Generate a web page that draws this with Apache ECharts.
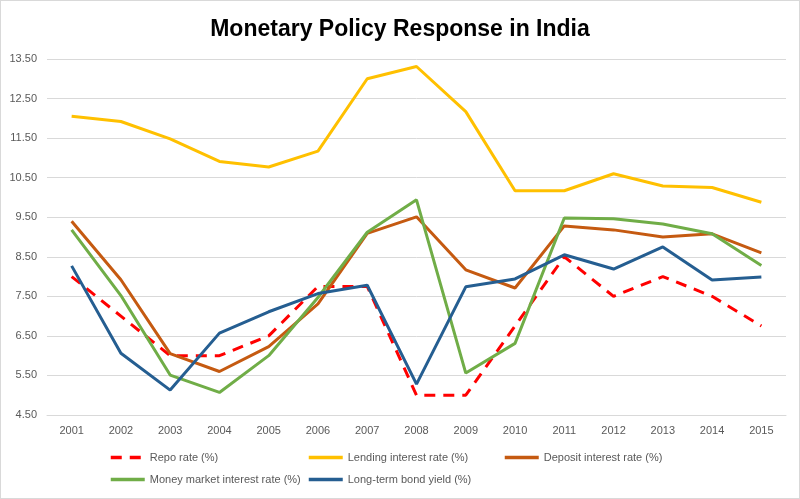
<!DOCTYPE html>
<html>
<head>
<meta charset="utf-8">
<script src="https://cdn.jsdelivr.net/npm/echarts@6/dist/echarts.min.js"></script>
<style>
  html, body { margin: 0; padding: 0; background: #fff; }
  #chart { width: 798px; height: 497px; border: 1px solid #d9d9d9; }
</style>
</head>
<body>
<div id="chart"></div>
<script>
// years on the category axis
const years = ['2001', '2002', '2003', '2004', '2005', '2006', '2007', '2008',
    '2009', '2010', '2011', '2012', '2013', '2014', '2015']

// series values (%)
const repoRate = [8.0, 7.0, 6.0, 6.0, 6.5, 7.75, 7.75, 5.0, 5.0, 6.75, 8.5, 7.5, 8.0, 7.5, 6.75]
const lendingRate = [12.05, 11.92, 11.48, 10.91, 10.77, 11.17, 13.0, 13.31, 12.17, 10.17, 10.17, 10.6, 10.29, 10.25, 9.88]
const depositRate = [9.4, 7.92, 6.05, 5.6, 6.23, 7.31, 9.09, 9.51, 8.17, 7.71, 9.28, 9.18, 9.0, 9.08, 8.6]
const moneyMarketRate = [9.18, 7.52, 5.51, 5.07, 6.0, 7.47, 9.12, 9.94, 5.56, 6.31, 9.48, 9.46, 9.33, 9.08, 8.28]
const bondYield = [8.27, 6.06, 5.13, 6.57, 7.11, 7.57, 7.78, 5.28, 7.74, 7.94, 8.55, 8.19, 8.75, 7.91, 7.99]

// y axis tick values
const yTicks = [4.5, 5.5, 6.5, 7.5, 8.5, 9.5, 10.5, 11.5, 12.5, 13.5]

// series names, in legend order
const names = ['Repo rate (%)', 'Lending interest rate (%)', 'Deposit interest rate (%)',
    'Money market interest rate (%)', 'Long-term bond yield (%)']

const chart = echarts.init(document.getElementById('chart'), null, { renderer: 'canvas' })

const font = 'Liberation Sans, Arial, sans-serif'

const lineSeries = (name, data, color, dashed) => ({
    name,
    type: 'line',
    data,
    symbol: 'none',
    animation: false,
    lineStyle: {
        color,
        width: 3,
        type: dashed ? [11, 8] : 'solid',
        cap: 'butt'
    },
    itemStyle: { color }
})

// one legend per item so each sits where the reference puts it
const legendSlots = [[108, 451], [306, 451], [502, 451], [108, 473], [306, 473]]
const legends = names.map((name, i) => ({
    data: [name],
    left: legendSlots[i][0],
    top: legendSlots[i][1],
    padding: 0,
    itemWidth: 34,
    itemHeight: 14,
    itemTextGap: 7,
    itemStyle: { opacity: 0 },
    lineStyle: { width: 3.5 },
    textStyle: { fontFamily: font, fontSize: 11, color: '#595959' }
}))

chart.setOption({
    backgroundColor: '#fff',
    title: {
        text: 'Monetary Policy Response in India',
        left: 'center',
        top: 12,
        textStyle: {
            fontFamily: font,
            fontWeight: 'bold',
            fontSize: 23,
            color: '#000'
        }
    },
    grid: { left: 46, right: 13, top: 58, bottom: 83 },
    legend: legends,
    xAxis: {
        type: 'category',
        data: years,
        boundaryGap: true,
        axisLine: { lineStyle: { color: '#d9d9d9', width: 1 } },
        axisTick: { show: false },
        axisLabel: { fontFamily: font, fontSize: 11, color: '#595959', margin: 10 }
    },
    yAxis: {
        type: 'value',
        min: 4.5,
        max: 13.5,
        axisLine: { show: false },
        axisTick: { show: false, customValues: yTicks },
        axisLabel: {
            customValues: yTicks,
            fontFamily: font, fontSize: 11, color: '#595959', margin: 10,
            formatter: v => v.toFixed(2)
        },
        splitLine: { lineStyle: { color: '#d9d9d9', width: 1 } }
    },
    series: [
        lineSeries(names[0], repoRate, '#ff0000', true),
        lineSeries(names[1], lendingRate, '#ffc000'),
        lineSeries(names[2], depositRate, '#c55a11'),
        lineSeries(names[3], moneyMarketRate, '#70ad47'),
        lineSeries(names[4], bondYield, '#255e91')
    ]
})
</script>
</body>
</html>
